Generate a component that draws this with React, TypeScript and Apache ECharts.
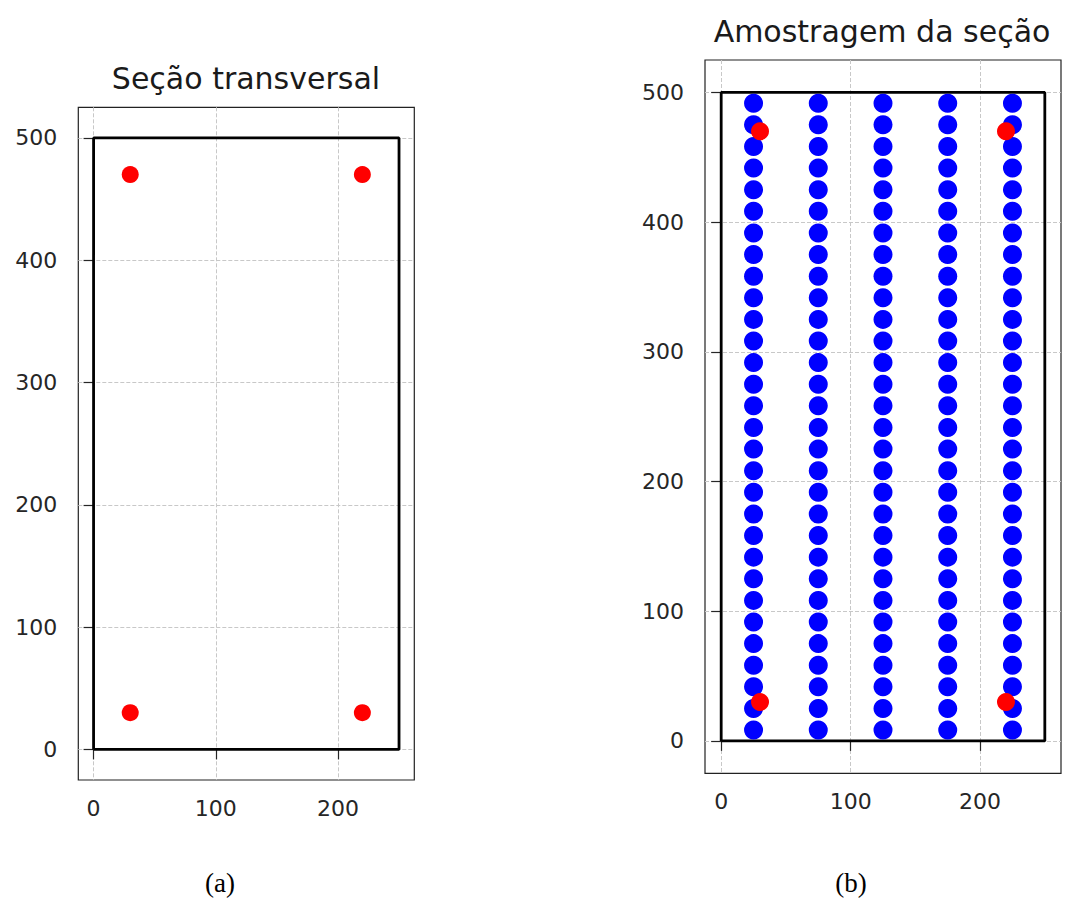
import React, { useEffect, useRef } from "react";
import * as echarts from "echarts";

const xTicks = [0, 100, 200];
const yTicks = [0, 100, 200, 300, 400, 500];
const sectionX = [0, 250, 250, 0, 0];
const sectionY = [0, 0, 500, 500, 0];
const barX = [30, 220, 30, 220];
const barY = [30, 30, 470, 470];
const sampleX = [25, 75, 125, 175, 225];
const sampleY = [
  8.33, 25, 41.67, 58.33, 75, 91.67, 108.33, 125, 141.67, 158.33,
  175, 191.67, 208.33, 225, 241.67, 258.33, 275, 291.67, 308.33, 325,
  341.67, 358.33, 375, 391.67, 408.33, 425, 441.67, 458.33, 475, 491.67,
];
const titles = ["Seção transversal", "Amostragem da seção"];
const captions = ["(a)", "(b)"];

const TICK_COLOR = "#262626";
const FONT = "DejaVu Sans";

function makeAxis(kind: "x" | "y", gridIndex: number) {
  const ticks = kind === "x" ? xTicks : yTicks;
  return {
    type: "value",
    gridIndex,
    min: kind === "x" ? -12.5 : -25,
    max: kind === "x" ? 262.5 : 525,
    axisLine: { show: false },
    axisTick: {
      show: true,
      inside: false,
      length: 10,
      customValues: ticks,
      lineStyle: { color: TICK_COLOR, width: 1.2 },
    },
    axisLabel: {
      show: true,
      customValues: ticks,
      fontFamily: FONT,
      fontSize: 22,
      color: TICK_COLOR,
      margin: kind === "x" ? 17 : 21,
    },
    splitLine: {
      show: true,
      lineStyle: { color: "#c8c8c8", width: 1, type: [4, 2] },
    },
  };
}

export default function App() {
  const ref = useRef<HTMLDivElement>(null);
  useEffect(() => {
    if (!ref.current) return;
    const chart = echarts.init(ref.current, undefined, { renderer: "svg" });
    const section = sectionX.map((x, i) => [x, sectionY[i]]);
    const bars = barX.map((x, i) => [x, barY[i]]);
    const samples: number[][] = [];
    sampleX.forEach((x) => sampleY.forEach((y) => samples.push([x, y])));

    const grids = [
      { left: 78.3, top: 107.3, width: 336, height: 672.7 },
      { left: 705, top: 60, width: 356, height: 713.3 },
    ];

    chart.setOption({
      animation: false,
      backgroundColor: "#ffffff",
      grid: grids.map((g) => ({
        ...g,
        show: true,
        borderColor: "#222222",
        borderWidth: 1.2,
        backgroundColor: "transparent",
        containLabel: false,
      })),
      xAxis: [makeAxis("x", 0), makeAxis("x", 1)],
      yAxis: [makeAxis("y", 0), makeAxis("y", 1)],
      series: [
        {
          type: "line",
          xAxisIndex: 0,
          yAxisIndex: 0,
          data: section,
          showSymbol: false,
          symbol: "none",
          lineStyle: { color: "#000000", width: 2.8 },
          z: 2,
        },
        {
          type: "scatter",
          xAxisIndex: 0,
          yAxisIndex: 0,
          data: bars,
          symbolSize: 17,
          itemStyle: { color: "#ff0000", opacity: 1 },
          z: 4,
        },
        {
          type: "line",
          xAxisIndex: 1,
          yAxisIndex: 1,
          data: section,
          showSymbol: false,
          symbol: "none",
          lineStyle: { color: "#000000", width: 2.8 },
          z: 2,
        },
        {
          type: "scatter",
          xAxisIndex: 1,
          yAxisIndex: 1,
          data: samples,
          symbolSize: 19,
          itemStyle: { color: "#0000ff", opacity: 1 },
          z: 3,
        },
        {
          type: "scatter",
          xAxisIndex: 1,
          yAxisIndex: 1,
          data: bars,
          symbolSize: 18,
          itemStyle: { color: "#ff0000", opacity: 1 },
          z: 4,
        },
      ],
      graphic: [
        {
          type: "text",
          x: 246,
          y: 78,
          style: {
            text: titles[0],
            fontFamily: FONT,
            fontSize: 30,
            fill: "#1a1a1a",
            align: "center",
            verticalAlign: "middle",
          },
        },
        {
          type: "text",
          x: 882,
          y: 31,
          style: {
            text: titles[1],
            fontFamily: FONT,
            fontSize: 30,
            fill: "#1a1a1a",
            align: "center",
            verticalAlign: "middle",
          },
        },
        {
          type: "text",
          x: 220,
          y: 883,
          style: {
            text: captions[0],
            fontFamily: "Liberation Serif",
            fontSize: 27,
            fill: "#000000",
            align: "center",
            verticalAlign: "middle",
          },
        },
        {
          type: "text",
          x: 851,
          y: 883,
          style: {
            text: captions[1],
            fontFamily: "Liberation Serif",
            fontSize: 27,
            fill: "#000000",
            align: "center",
            verticalAlign: "middle",
          },
        },
      ],
    });
    return () => chart.dispose();
  }, []);
  return (
    <div
      ref={ref}
      style={{ position: "absolute", left: 0, top: 0, width: 1067, height: 900 }}
    />
  );
}
